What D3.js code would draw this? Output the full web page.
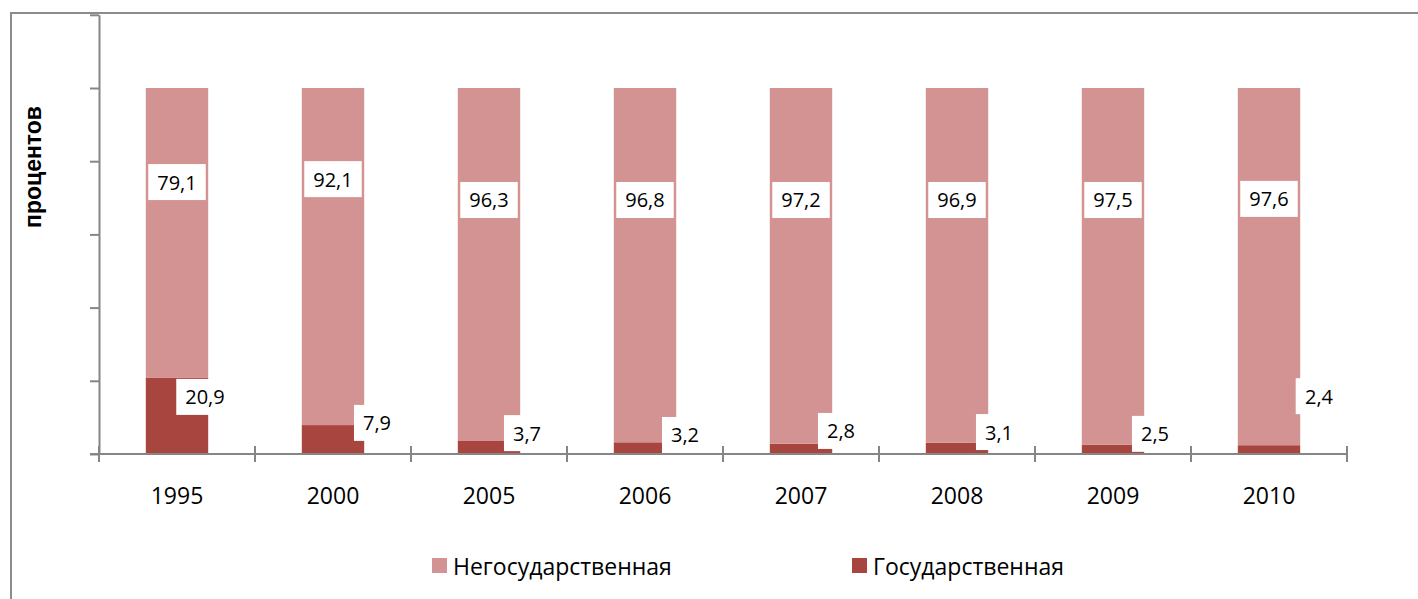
<!DOCTYPE html>
<html>
<head>
<meta charset="utf-8">
<script src="https://cdn.jsdelivr.net/npm/d3@7"></script>
<style>
  body { margin: 0; background: #fff; }
  svg { display: block; font-family: "Open Sans", sans-serif; }
</style>
</head>
<body>
<div id="chart"></div>
<script>
// data
const years = ["1995", "2000", "2005", "2006", "2007", "2008", "2009", "2010"];
const stateShare = [20.9, 7.9, 3.7, 3.2, 2.8, 3.1, 2.5, 2.4];
const privateShare = [79.1, 92.1, 96.3, 96.8, 97.2, 96.9, 97.5, 97.6];
const seriesNames = ["Негосударственная", "Государственная"];
const yTicks = [0, 20, 40, 60, 80, 100, 120];

// where the (hand moved) labels sit, in percent units
const privateLabelAt = [74.3, 75.1, 69.4, 69.4, 69.4, 69.4, 69.4, 69.7];
const stateLabelAt = [15.6, 8.5, 5.7, 5.2, 6.3, 6.0, 5.5, 15.8];
// sideways shift of the state labels from the bar centre
const stateLabelDx = [28, 44, 38, 40, 40, 42, 42, 50];

const width = 1418, height = 599;
const axisColor = "#868686";
const colors = { "Негосударственная": "#D39393", "Государственная": "#A9453F" };

const svg = d3.select("#chart").append("svg")
  .attr("width", width)
  .attr("height", height);

// outer border of the chart area
svg.append("rect")
  .attr("x", 11).attr("y", 13)
  .attr("width", width + 20).attr("height", height + 20)
  .attr("fill", "none")
  .attr("stroke", "#8c8c8c")
  .attr("stroke-width", 2);

// scales
const x = d3.scaleBand()
  .domain(years)
  .range([99, 1347])
  .paddingInner(0.6)
  .paddingOuter(0.3);

const y = d3.scaleLinear()
  .domain([0, 120])
  .range([454, 14.8]);

// stacked data
const rows = years.map((yr, i) => ({
  year: yr,
  "Государственная": stateShare[i],
  "Негосударственная": privateShare[i]
}));
const stack = d3.stack().keys(["Государственная", "Негосударственная"]);
const layers = stack(rows);

svg.append("g").selectAll("g")
  .data(layers)
  .join("g")
  .attr("fill", d => colors[d.key])
  .selectAll("rect")
  .data(d => d)
  .join("rect")
  .attr("x", d => x(d.data.year))
  .attr("y", d => y(d[1]))
  .attr("width", x.bandwidth())
  .attr("height", d => y(d[0]) - y(d[1]));

// y axis
const yAxis = svg.append("g")
  .attr("transform", "translate(99,0)")
  .call(d3.axisLeft(y).tickValues(yTicks).tickSize(9).tickSizeOuter(0).tickFormat(""));
yAxis.select(".domain").attr("stroke", axisColor).attr("stroke-width", 2);
yAxis.selectAll(".tick line").attr("stroke", axisColor).attr("stroke-width", 2);

// x axis
const xAxis = svg.append("g")
  .attr("transform", "translate(0,454)")
  .call(d3.axisBottom(x).tickSize(0).tickSizeOuter(0).tickPadding(0));
xAxis.select(".domain").attr("stroke", axisColor).attr("stroke-width", 2)
  .attr("d", "M90,0H1348");
xAxis.selectAll("text")
  .attr("y", 41)
  .attr("dy", null)
  .attr("dominant-baseline", "central")
  .style("font-size", "23px")
  .attr("fill", "#000")
  .attr("font-family", "Open Sans, sans-serif");

// category boundary ticks crossing the axis
const bounds = d3.range(years.length + 1).map(i => x.range()[0] + i * x.step());
svg.append("g").selectAll("line")
  .data(bounds)
  .join("line")
  .attr("x1", d => d).attr("x2", d => d)
  .attr("y1", 446).attr("y2", 462)
  .attr("stroke", axisColor)
  .attr("stroke-width", 2);

// data labels with white boxes
function addLabel(g, cx, cy, txt) {
  const lab = g.append("g");
  const t = lab.append("text")
    .attr("x", cx).attr("y", cy)
    .attr("text-anchor", "middle")
    .attr("dominant-baseline", "central")
    .attr("font-size", "20px")
    .attr("fill", "#000")
    .text(txt);
  const bb = t.node().getBBox();
  lab.insert("rect", "text")
    .attr("x", cx - bb.width / 2 - 9)
    .attr("y", cy - 18)
    .attr("width", bb.width + 18)
    .attr("height", 36)
    .attr("fill", "#fff");
}
const fmt = v => String(v).replace(".", ",");
const labels = svg.append("g");
years.forEach((yr, i) => {
  const cx = x(yr) + x.bandwidth() / 2;
  addLabel(labels, cx, y(privateLabelAt[i]), fmt(privateShare[i]));
});
years.forEach((yr, i) => {
  const cx = x(yr) + x.bandwidth() / 2 + stateLabelDx[i];
  addLabel(labels, cx, y(stateLabelAt[i]), fmt(stateShare[i]));
});

// y axis title
svg.append("text")
  .attr("transform", "translate(41,167) rotate(-90)")
  .attr("text-anchor", "middle")
  .attr("font-family", "Liberation Sans, Arial, sans-serif")
  .attr("font-weight", "bold")
  .attr("font-size", "23px")
  .text("процентов");

// legend
const legendX = [432, 852];
const legend = svg.append("g").selectAll("g")
  .data(seriesNames)
  .join("g")
  .attr("transform", (d, i) => `translate(${legendX[i]},558)`);
legend.append("rect")
  .attr("width", 15).attr("height", 15)
  .attr("fill", d => colors[d]);
legend.append("text")
  .attr("x", 21).attr("y", 8)
  .attr("dominant-baseline", "central")
  .attr("font-size", "23px")
  .text(d => d);
</script>
</body>
</html>
